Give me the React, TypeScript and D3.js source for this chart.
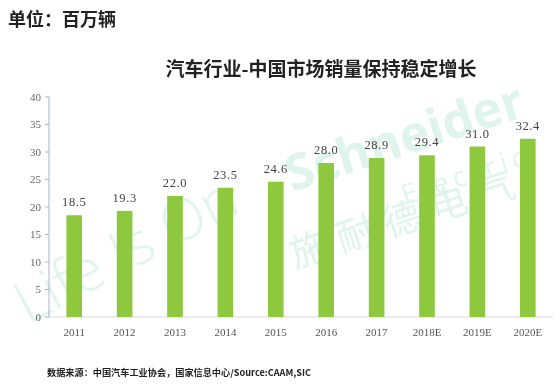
import React from "react";
import * as d3 from "d3";

const categories = ["2011", "2012", "2013", "2014", "2015", "2016", "2017", "2018E", "2019E", "2020E"];
const sales = [18.5, 19.3, 22.0, 23.5, 24.6, 28.0, 28.9, 29.4, 31.0, 32.4];
const yTicks = [0, 5, 10, 15, 20, 25, 30, 35, 40];
const unitText = "单位：百万辆";
const titleText = "汽车行业-中国市场销量保持稳定增长";
const sourceText = "数据来源：中国汽车工业协会，国家信息中心/Source:CAAM,SIC";

const W = 560, H = 391;
const left = 49, right = 553, top = 97, bottom = 317;

export default function App() {
  const x = d3.scaleBand().domain(categories).range([left, right]).paddingInner(0.69).paddingOuter(0.345);
  const y = d3.scaleLinear().domain([0, 40]).range([bottom, top]);
  const cjk = '"Noto Sans CJK SC", sans-serif';
  const num = '"Liberation Serif", serif';
  return (
    <svg width={W} height={H} style={{ position: "absolute", left: 0, top: 0, background: "#fff" }}>
      <rect x={0} y={0} width={W} height={H} fill="#fff" />
      {/* watermarks */}
      <g fill="#5cc6a0" opacity={0.2} fontFamily='"Open Sans", sans-serif'>
        <text x={28} y={325} fontSize={58} transform="rotate(-28 28 325)" fontWeight={300}>Life Is On</text>
        <text x={292} y={192} fontSize={50} fontWeight={700} transform="rotate(-18 292 192)">Schneider</text>
        <text x={405} y={205} fontSize={28} transform="rotate(-18 405 205)" letterSpacing={5}>Electric</text>
        <text x={295} y={268} fontSize={38} fontFamily={cjk} transform="rotate(-18 295 268)" letterSpacing={11}>施耐德电气</text>
      </g>
      {/* unit */}
      <text x={8} y={26} fontSize={18} fontWeight={700} fontFamily={cjk} fill="#222">{unitText}</text>
      {/* title */}
      <text x={321} y={76} textAnchor="middle" fontSize={19} fontWeight={600} fontFamily={cjk} fill="#222">{titleText}</text>
      {/* x baseline */}
      <line x1={left} x2={right} y1={bottom} y2={bottom} stroke="#d9d9d9" strokeWidth={1} />
      {/* y axis */}
      <line x1={left} x2={left} y1={top} y2={bottom} stroke="#a9b4c6" strokeWidth={1} />
      {yTicks.map((t) => (
        <g key={t}>
          <line x1={left - 4} x2={left} y1={y(t)} y2={y(t)} stroke="#a9b4c6" />
          <text x={left - 8} y={y(t)} dy="0.35em" textAnchor="end" fontSize={11} fontFamily={num} fill="#666">{t}</text>
        </g>
      ))}
      {/* bars */}
      {categories.map((c, i) => (
        <g key={c}>
          <rect x={x(c)!} y={y(sales[i])} width={x.bandwidth()} height={bottom - y(sales[i])} fill="#8dc83f" />
          <text x={x(c)! + x.bandwidth() / 2} y={y(sales[i]) - 9} textAnchor="middle" fontSize={12.5} letterSpacing={0.6} fontFamily={num} fill="#444">{sales[i].toFixed(1)}</text>
          <text x={x(c)! + x.bandwidth() / 2} y={336} textAnchor="middle" fontSize={11} fontFamily={num} fill="#555">{c}</text>
        </g>
      ))}
      {/* source */}
      <text x={47} y={376} fontSize={9} fontWeight={700} fontFamily={cjk} fill="#222" textLength={264} lengthAdjust="spacingAndGlyphs">{sourceText}</text>
    </svg>
  );
}
